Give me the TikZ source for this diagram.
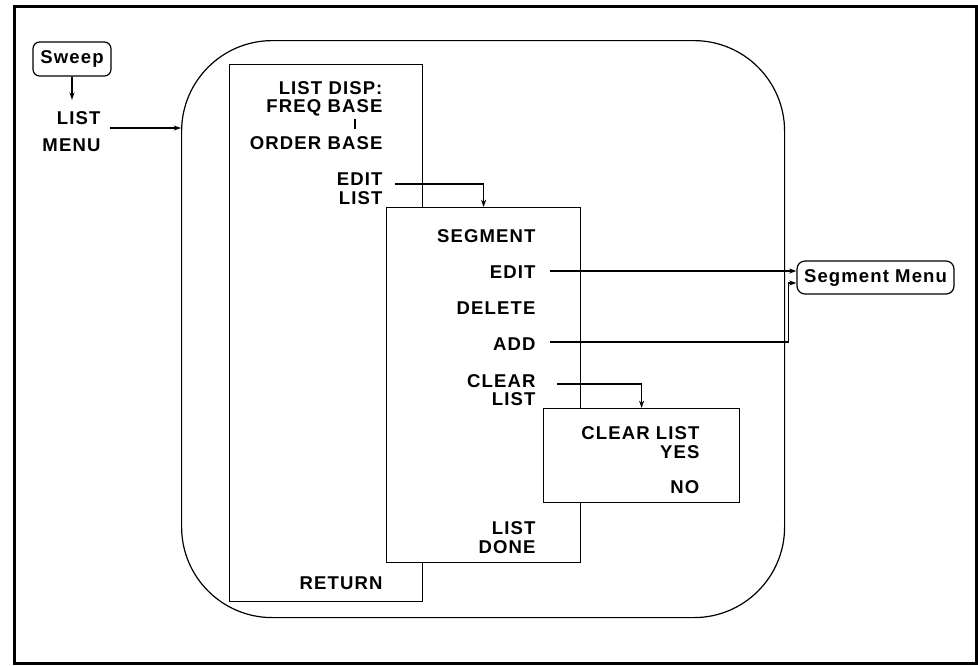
\documentclass[tikz,border=0pt]{standalone}
\usepackage{fontspec}
\setmainfont{Liberation Sans}[LetterSpace=6.0]
\usetikzlibrary{calc,arrows.meta}
\begin{document}
\begin{tikzpicture}[x=0.75pt,y=-0.75pt,
  line width=0.9pt,
  every node/.style={font=\fontsize{13.9}{13.6}\selectfont\bfseries},
  box/.style={draw, fill=white, inner sep=0pt, anchor=north west},
  key/.style={anchor=east, align=right, inner sep=0pt},
  arr/.style={-{Stealth[length=5.5pt,width=3.8pt]}},
  lozenge/.style={draw, rounded corners=5pt, inner sep=0pt}
]
\useasboundingbox (0,0) rectangle (978,665);
\draw[line width=2.25pt] (14,6) rectangle (976,663);

% menu boxes
\node[box, rounded corners=68pt, minimum width=452.25pt, minimum height=432.75pt] (big) at (181,40) {};
\node[box, minimum width=144.75pt, minimum height=402.75pt] (box1) at (229,64) {};
\node[box, minimum width=145.5pt, minimum height=266.25pt] (box2) at (386,207) {};
\node[box, minimum width=147pt, minimum height=70.5pt] (box3) at (543,408) {};

% softkey labels
\node[key] (dispA) at (383,99) {LIST DISP:\\FREQ BASE};
\node[key] (order) at (383,143) {ORDER BASE};
\node[key] (editlist) at (383,189) {EDIT\\[0.5pt]LIST};
\node[key] (ret) at (383,583) {RETURN};
\node[key] (seg) at (536,236) {SEGMENT};
\node[key] (sedit) at (536,272) {EDIT};
\node[key] (sdel) at (536,308) {DELETE};
\node[key] (sadd) at (536,344) {ADD};
\node[key] (sclear) at (536,390) {CLEAR\\LIST};
\node[key] (ldone) at (536,537.5) {LIST\\[0.75pt]DONE};
\node[key] (clq) at (700,442.5) {CLEAR LIST\\[0.5pt]YES};
\node[key] (no) at (700,487) {NO};
\node[key] (listmenu) at (101,131.5) {LIST\\[6.75pt]MENU};

% hard keys
\node[lozenge, minimum width=58.5pt, minimum height=25.5pt] (sweep) at (72,59) {Sweep};
\node[lozenge, rounded corners=6pt, minimum width=117.75pt, minimum height=24.75pt] (segmenu) at (875.5,277.5) {Segment Menu};

% connectors
\draw ($(dispA.south east)+(-28,2)$) -- ($(order.north east)+(-28,-7)$);
\draw[arr] (sweep.south) -- ($(sweep.south |- listmenu.north)+(0,-11)$);
\draw[arr] ($(listmenu.east)+(9,-3.5)$) -- ($(listmenu.east -| big.west)+(0,-3.5)$);
\draw[arr] ($(editlist.east)+(12,-5)$) -| (box2.north);
\draw[arr] ($(sedit.east)+(14,-1)$) -- ($(sedit.east -| segmenu.west)+(0,-1)$);
\coordinate (addin) at ($(segmenu.west)+(0,5.5)$);
\draw[arr] ($(sadd.east)+(14,-2)$) -| ($(addin)+(-8,0)$) -- (addin);
\draw[arr] ($(sclear.east)+(21,-6)$) -| (box3.north);
\end{tikzpicture}
\end{document}
